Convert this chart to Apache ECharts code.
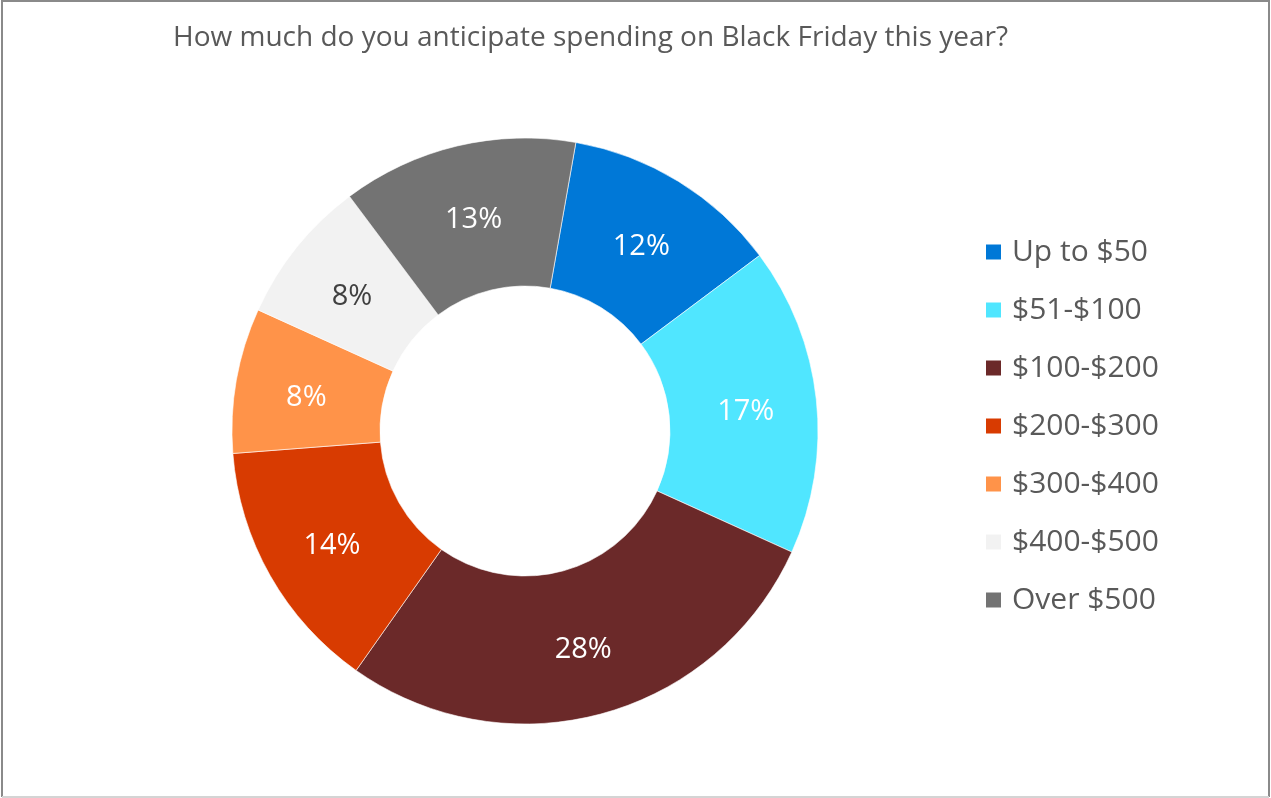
<!DOCTYPE html>
<html>
<head>
<meta charset="utf-8">
<script src="https://cdn.jsdelivr.net/npm/echarts@6/dist/echarts.min.js"></script>
<style>
  html, body { margin: 0; padding: 0; background: #fff; }
  #chart { width: 1271px; height: 798px; }
</style>
</head>
<body>
<div id="chart"></div>
<script>
// Survey answers: anticipated Black Friday spending
const categories = ['Up to $50', '$51-$100', '$100-$200', '$200-$300', '$300-$400', '$400-$500', 'Over $500'];
const shares = [12, 17, 28, 14, 8, 8, 13];
const sliceColors = ['#0078D7', '#50E6FF', '#6B2929', '#D83B01', '#FF9349', '#F2F2F2', '#737373'];
const labelColors = ['#ffffff', '#ffffff', '#ffffff', '#ffffff', '#ffffff', '#404040', '#ffffff'];
const titleText = 'How much do you anticipate spending on Black Friday this year?';

const FONT = '"Open Sans", "Noto Sans", sans-serif';

const chart = echarts.init(document.getElementById('chart'), null, { renderer: 'canvas' });

chart.setOption({
  backgroundColor: '#ffffff',
  animation: false,
  color: sliceColors,
  title: {
    text: titleText,
    left: 173,
    top: 24,
    padding: 0,
    textStyle: { fontFamily: FONT, fontSize: 28, fontWeight: 'normal', color: '#595959' }
  },
  legend: {
    orient: 'vertical',
    left: 984,
    top: 235,
    padding: 0,
    icon: 'rect',
    itemWidth: 17,
    itemHeight: 17,
    itemGap: 24,
    textStyle: {
      fontFamily: FONT, fontSize: 30, color: '#595959',
      lineHeight: 34, padding: [0, 0, 0, 5]
    },
    data: categories
  },
  graphic: [
    { type: 'line', shape: { x1: 2, y1: 0, x2: 2, y2: 797 }, style: { stroke: '#8a8a8a', lineWidth: 2 } },
    { type: 'line', shape: { x1: 1269, y1: 0, x2: 1269, y2: 797 }, style: { stroke: '#8a8a8a', lineWidth: 2 } },
    { type: 'line', shape: { x1: 2, y1: 1, x2: 1269, y2: 1 }, style: { stroke: '#8a8a8a', lineWidth: 2 } },
    { type: 'line', shape: { x1: 2, y1: 797, x2: 1269, y2: 797 }, style: { stroke: '#d4d4d4', lineWidth: 2 } }
  ],
  series: [{
    type: 'pie',
    center: [525, 431],
    radius: [145, 293],
    startAngle: 80,
    clockwise: true,
    avoidLabelOverlap: false,
    itemStyle: { borderColor: '#ffffff', borderWidth: 0.6 },
    label: {
      show: true,
      position: 'inside',
      fontFamily: FONT,
      fontSize: 29,
      formatter: '{v|{c}%}',
      rich: {
        v: { fontFamily: FONT, fontSize: 29, padding: [10, 0, 0, 0] }
      }
    },
    labelLine: { show: false },
    emphasis: { disabled: true },
    data: categories.map((name, i) => ({
      name: name,
      value: shares[i],
      label: { color: labelColors[i] }
    }))
  }]
});
</script>
</body>
</html>
